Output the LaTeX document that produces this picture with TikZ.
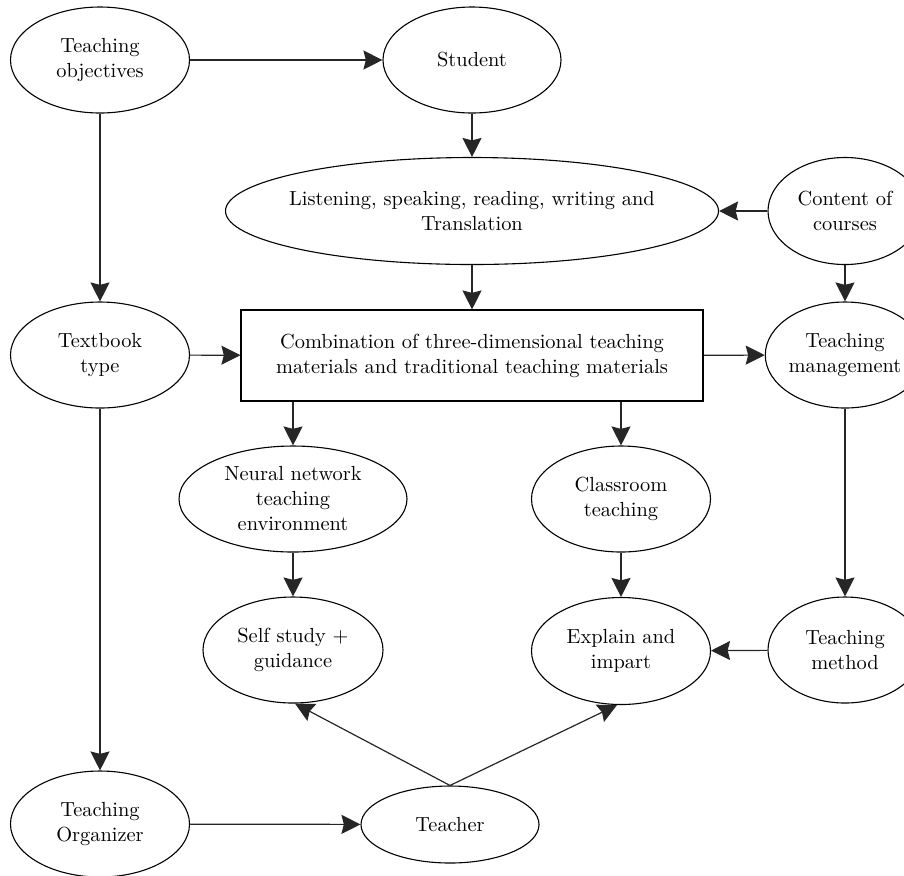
\documentclass[tikz,border=0pt]{standalone}
\usepackage{tikz}
\usetikzlibrary{shapes.geometric, arrows.meta, positioning, calc}

\begin{document}
\begin{tikzpicture}[x=0.5pt, y=-0.5pt,
  every node/.style={font=\fontsize{10.2}{12.5}\selectfont, align=center, inner sep=0pt},
  oval/.style={draw, ellipse, line width=0.55pt, minimum width=89.5pt, minimum height=53pt},
  arr/.style={-{Stealth[length=9.5pt, width=9.5pt, inset=1.2pt]}, line width=0.6pt, draw=black!85}]
\useasboundingbox (0,0) rectangle (904,875);
\clip (0,0) rectangle (904,875);

% Top row
\node[oval] (obj) at (100, 60) {Teaching\\objectives};
\node[oval, minimum width=89pt] (stu) at (472, 60) {Student};
\node[oval, inner xsep=-6pt, minimum width=246.5pt, minimum height=53.5pt] (lsrw) at (472, 211) {Listening, speaking, reading, writing and\\Translation};
\node[oval, minimum width=77pt, minimum height=53.5pt] (cont) at (845, 211) {Content of\\courses};

% Middle row
\node[oval] (tbook) at (100, 355) {Textbook\\type};
\node[draw, rectangle, line width=0.55pt, minimum width=231pt, minimum height=45.5pt] (comb) at (472, 355.5) {Combination of three-dimensional teaching\\materials and traditional teaching materials};
\node[oval, minimum width=77pt] (mgmt) at (845, 355) {Teaching\\management};

% Lower rows
\node[oval, minimum width=114pt] (nnet) at (293, 499) {Neural network\\teaching\\environment};
\node[oval] (room) at (621, 499) {Classroom\\teaching};
\node[oval, minimum width=90pt] (self) at (293, 650) {Self study +\\guidance};
\node[oval, minimum height=53.5pt] (expl) at (621, 651) {Explain and\\impart};
\node[oval, minimum width=77pt] (meth) at (845, 650) {Teaching\\method};
\node[oval] (org) at (100, 824) {Teaching\\Organizer};
\node[oval, minimum width=89pt, minimum height=38.5pt] (tch) at (450, 824.5) {Teacher};

% Connectors
\draw[arr] (obj) -- (stu);
\draw[arr] (stu) -- (lsrw);
\draw[arr] (cont) -- (lsrw);
\draw[arr] (lsrw) -- (comb);
\draw[arr] (cont) -- (mgmt);
\draw[arr] (obj) -- (tbook);
\draw[arr] (tbook) -- (comb);
\draw[arr] (comb) -- (mgmt);
\draw[arr] (nnet.north |- comb.south) -- (nnet.north);
\draw[arr] (room.north |- comb.south) -- (room.north);
\draw[arr] (nnet) -- (self);
\draw[arr] (room) -- (expl);
\draw[arr] (mgmt) -- (meth);
\draw[arr] (meth) -- (expl);
\draw[arr] (tbook) -- (org);
\draw[arr] (org) -- (tch);
\draw[arr] (tch.north) -- ($(self.south)+(2,0)$);
\draw[arr] (tch.north) -- ($(expl.south)+(-4,0)$);
\end{tikzpicture}
\end{document}
